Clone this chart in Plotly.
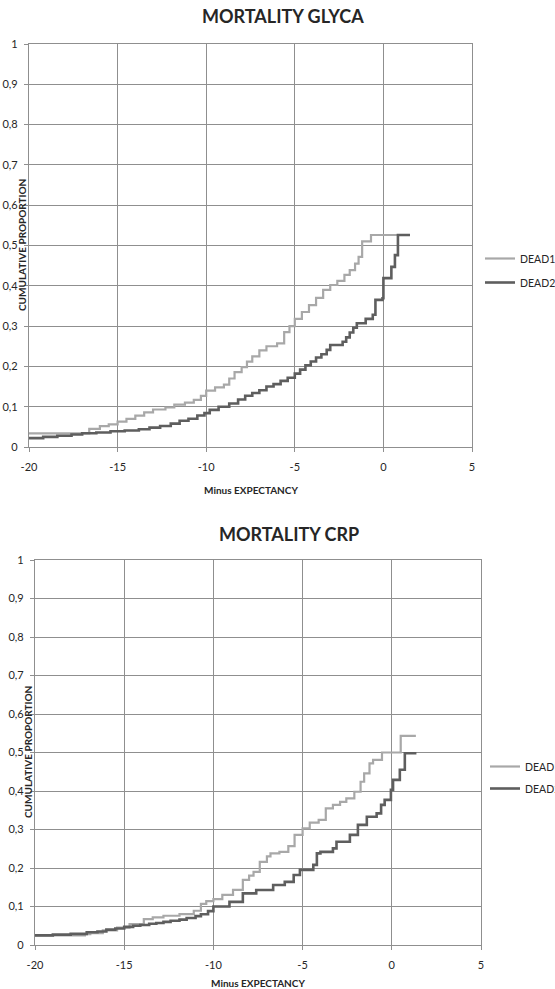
import plotly.graph_objects as go

W, H = 555, 989

# ---- data: cumulative proportion vs. "minus expectancy" (step curves) ----
glyca_dead1_x = [-20, -16.6, -16.0, -15.5, -15.0, -14.5, -14.0, -13.5, -13.0, -12.3, -11.8, -11.2,
                 -10.7, -10.3, -10.0, -9.5, -9.0, -8.7, -8.4, -8.0, -7.7, -7.4, -7.0, -6.6, -6.0,
                 -5.6, -5.3, -5.0, -4.6, -4.2, -3.8, -3.4, -3.0, -2.6, -2.2, -1.9, -1.6, -1.4,
                 -1.2, -0.7, 1.5]
glyca_dead1_y = [0.034, 0.045, 0.052, 0.056, 0.063, 0.070, 0.078, 0.086, 0.093, 0.098, 0.105, 0.110,
                 0.117, 0.127, 0.140, 0.148, 0.155, 0.170, 0.186, 0.198, 0.212, 0.225, 0.240, 0.250,
                 0.257, 0.285, 0.300, 0.318, 0.335, 0.352, 0.370, 0.390, 0.402, 0.412, 0.427, 0.439,
                 0.455, 0.472, 0.510, 0.526, 0.526]

glyca_dead2_x = [-20, -19.2, -18.4, -17.6, -17.0, -16.2, -15.4, -14.6, -13.8, -13.2, -12.6, -12.0,
                 -11.5, -11.0, -10.5, -10.1, -9.8, -9.3, -8.7, -8.2, -7.8, -7.4, -7.0, -6.6, -6.2,
                 -5.8, -5.4, -5.0, -4.7, -4.4, -4.1, -3.8, -3.5, -3.2, -3.0, -2.3, -2.1, -1.9,
                 -1.7, -1.5, -1.0, -0.6, -0.45, -0.05, 0.0, 0.45, 0.65, 0.82, 1.5]
glyca_dead2_y = [0.022, 0.025, 0.028, 0.031, 0.034, 0.036, 0.039, 0.041, 0.044, 0.048, 0.052, 0.058,
                 0.065, 0.070, 0.078, 0.084, 0.092, 0.100, 0.108, 0.118, 0.127, 0.134, 0.141, 0.150,
                 0.156, 0.164, 0.172, 0.182, 0.192, 0.203, 0.212, 0.222, 0.230, 0.241, 0.253, 0.261,
                 0.272, 0.284, 0.296, 0.307, 0.318, 0.328, 0.365, 0.369, 0.419, 0.447, 0.476, 0.526,
                 0.526]

crp_dead1_x = [-20, -17.2, -16.9, -16.2, -15.4, -14.7, -13.9, -13.4, -12.8, -11.9, -11.1, -10.7,
               -10.4, -10.0, -9.5, -8.9, -8.35, -8.0, -7.75, -7.4, -7.0, -6.8, -6.3, -5.8, -5.45,
               -5.0, -4.6, -4.1, -3.7, -3.3, -2.9, -2.55, -2.1, -1.75, -1.55, -1.25, -1.05, -0.55,
               0.5, 1.35]
crp_dead1_y = [0.025, 0.028, 0.031, 0.038, 0.045, 0.054, 0.067, 0.072, 0.076, 0.080, 0.089, 0.107,
               0.114, 0.119, 0.130, 0.143, 0.169, 0.180, 0.190, 0.216, 0.230, 0.238, 0.242, 0.257,
               0.286, 0.303, 0.318, 0.325, 0.355, 0.364, 0.372, 0.381, 0.398, 0.424, 0.446, 0.472,
               0.481, 0.500, 0.543, 0.543]

crp_dead2_x = [-20, -19.0, -18.0, -17.1, -16.5, -16.0, -15.5, -15.0, -14.5, -14.1, -13.6, -13.2,
               -12.8, -12.4, -11.9, -11.5, -11.0, -10.7, -10.3, -10.0, -9.1, -8.35, -7.6, -6.65,
               -6.0, -5.5, -5.15, -4.4, -4.2, -4.0, -3.3, -3.1, -2.35, -1.9, -1.4, -0.85, -0.6,
               -0.4, -0.05, 0.07, 0.45, 0.73, 1.38]
crp_dead2_y = [0.025, 0.027, 0.029, 0.033, 0.035, 0.040, 0.043, 0.047, 0.050, 0.052, 0.055, 0.057,
               0.060, 0.063, 0.066, 0.070, 0.075, 0.080, 0.088, 0.100, 0.112, 0.134, 0.143, 0.156,
               0.164, 0.182, 0.195, 0.208, 0.238, 0.242, 0.251, 0.268, 0.286, 0.312, 0.333, 0.342,
               0.364, 0.377, 0.403, 0.429, 0.455, 0.498, 0.498]

series_names = ["DEAD1", "DEAD2"]
chart_titles = ["MORTALITY GLYCA", "MORTALITY CRP"]
x_title = "Minus EXPECTANCY"
y_title = "CUMULATIVE PROPORTION"

x_tickvals = [-20, -15, -10, -5, 0, 5]
x_ticktext = ["-20", "-15", "-10", "-5", "0", "5"]
y_tickvals = [0, 0.1, 0.2, 0.3, 0.4, 0.5, 0.6, 0.7, 0.8, 0.9, 1]
y_ticktext = ["0", "0,1", "0,2", "0,3", "0,4", "0,5", "0,6", "0,7", "0,8", "0,9", "1"]

# ---- styling ----
FONT = "Lato"
GRID = "#8f8f8f"
LIGHT = "#a8a8a8"
DARK = "#5e5e5e"
TXT = "#262626"


def px_x(p):
    return p / W


def px_y(p):
    return 1 - p / H


# plot-area boxes in pixels: (left, right, top, bottom)
boxes = [(29, 472, 44, 447), (35, 481, 560, 945)]

fig = go.Figure()

data = [
    ((glyca_dead1_x, glyca_dead1_y), (glyca_dead2_x, glyca_dead2_y)),
    ((crp_dead1_x, crp_dead1_y), (crp_dead2_x, crp_dead2_y)),
]

for i, pair in enumerate(data):
    xa = "x" if i == 0 else "x2"
    ya = "y" if i == 0 else "y2"
    lg = "legend" if i == 0 else "legend2"
    for j, (xs, ys) in enumerate(pair):
        fig.add_trace(go.Scatter(
            x=xs, y=ys, mode="lines", line_shape="hv",
            line=dict(color=LIGHT if j == 0 else DARK, width=2.2 if j == 0 else 2.6),
            name=series_names[j], xaxis=xa, yaxis=ya, legend=lg,
            legendgroup=f"g{i}{j}",
        ))

axis_common = dict(
    showgrid=True, gridcolor=GRID, gridwidth=1.3,
    showline=True, linecolor=GRID, linewidth=1.3, mirror=True,
    ticks="outside", ticklen=4, tickcolor=GRID, tickwidth=1.3,
    zeroline=False, tickfont=dict(family=FONT, size=11, color=TXT),
    fixedrange=True,
)

layout = dict(
    width=W, height=H, margin=dict(l=0, r=0, t=0, b=0, autoexpand=False),
    paper_bgcolor="white", plot_bgcolor="white",
    font=dict(family=FONT, color=TXT),
    annotations=[],
)

for i, (l, r, t, b) in enumerate(boxes):
    sx = "" if i == 0 else "2"
    layout[f"xaxis{sx}"] = dict(axis_common, domain=[px_x(l), px_x(r)], range=[-20, 5],
                                tickvals=x_tickvals, ticktext=x_ticktext,
                                anchor=f"y{sx}", ticklabelstandoff=6)
    layout[f"yaxis{sx}"] = dict(axis_common, domain=[px_y(b), px_y(t)], range=[0, 1],
                                tickvals=y_tickvals, ticktext=y_ticktext,
                                anchor=f"x{sx}", ticklabelstandoff=4)

# chart titles, axis titles
title_pos = [(283, 16), (289, 534)]
xt_pos = [(251, 490), (258, 983)]
yt_pos = [(22, 245), (28, 752)]
for i in range(2):
    layout["annotations"].append(dict(
        text=f"<b>{chart_titles[i]}</b>", xref="paper", yref="paper",
        x=px_x(title_pos[i][0]), y=px_y(title_pos[i][1]), xanchor="center", yanchor="middle",
        showarrow=False, font=dict(family=FONT, size=18, color=TXT)))
    layout["annotations"].append(dict(
        text=f"<b>{x_title}</b>", xref="paper", yref="paper",
        x=px_x(xt_pos[i][0]), y=px_y(xt_pos[i][1]), xanchor="center", yanchor="middle",
        showarrow=False, font=dict(family=FONT, size=10, color=TXT)))
    layout["annotations"].append(dict(
        text=f"<b>{y_title}</b>", xref="paper", yref="paper", textangle=-90,
        x=px_x(yt_pos[i][0]), y=px_y(yt_pos[i][1]), xanchor="center", yanchor="middle",
        showarrow=False, font=dict(family=FONT, size=10, color=TXT)))

legend_common = dict(
    bgcolor="rgba(0,0,0,0)", borderwidth=0, font=dict(family=FONT, size=10.5, color=TXT),
    xanchor="left", yanchor="top", itemwidth=30,
)
layout["legend"] = dict(legend_common, x=px_x(480), y=px_y(244), tracegroupgap=5)
layout["legend2"] = dict(legend_common, x=px_x(485), y=px_y(752), tracegroupgap=3)

fig.update_layout(**layout)
fig.write_html("out.html")
